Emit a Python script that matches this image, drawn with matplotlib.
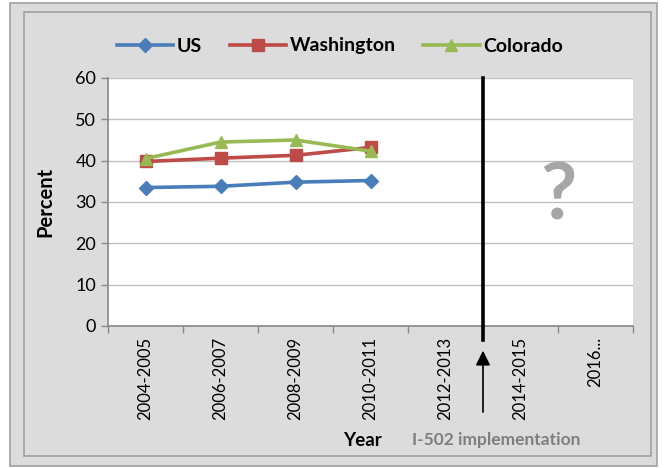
import matplotlib
matplotlib.use("Agg")
import matplotlib.pyplot as plt
from matplotlib.patches import Rectangle

plt.rcParams['font.family'] = ['Lato', 'DejaVu Sans']

years = ['2004-2005', '2006-2007', '2008-2009', '2010-2011', '2012-2013', '2014-2015', '2016...']
us = [33.5, 33.8, 34.8, 35.2]
washington = [39.8, 40.6, 41.3, 43.2]
colorado = [40.5, 44.5, 45.0, 42.3]

W, H = 664, 468
fig = plt.figure(figsize=(W / 100, H / 100), dpi=100)
fig.patch.set_facecolor('white')

# chart frame: outer and inner border on gray fill
fig.patches.append(Rectangle((10 / W, 1 - 466 / H), 647 / W, 463 / H, transform=fig.transFigure,
                             facecolor='#dcdcdc', edgecolor='#a0a0a0', lw=1.2, zorder=-10))
fig.patches.append(Rectangle((24 / W, 1 - 456 / H), 627 / W, 444 / H, transform=fig.transFigure,
                             facecolor='none', edgecolor='#a0a0a0', lw=1.2, zorder=-9))

ax = fig.add_axes([108 / W, 1 - 326 / H, 525 / W, 248 / H])
ax.set_facecolor('white')

x = list(range(len(us)))
ax.plot(x, us, color='#4a7ebb', lw=2.6, marker='D', ms=7, label='US')
ax.plot(x, washington, color='#be4b48', lw=2.6, marker='s', ms=8, label='Washington')
ax.plot(x, colorado, color='#98b954', lw=2.6, marker='^', ms=9, label='Colorado')

ax.set_xlim(-0.5, len(years) - 0.5)
ax.set_ylim(0, 60)
ax.set_yticks(range(0, 61, 10))
ax.tick_params(axis='y', labelsize=13, length=5, color='#888888', width=1)
ax.grid(axis='y', color='#bfbfbf', lw=1)
ax.set_axisbelow(True)

ax.set_xticks([i + 0.5 for i in range(-1, len(years))])
ax.set_xticklabels([])
ax.set_xticks(range(len(years)), minor=True)
ax.set_xticklabels(years, minor=True, rotation=90, fontsize=12)
ax.tick_params(axis='x', which='major', length=5, color='#888888', width=1)
ax.tick_params(axis='x', which='minor', length=0, pad=8)

for s in ['top', 'right']:
    ax.spines[s].set_visible(False)
for s in ['left', 'bottom']:
    ax.spines[s].set_color('#888888')
    ax.spines[s].set_linewidth(1.2)

fig.text(45 / W, 1 - 202 / H, 'Percent', fontsize=14.5, fontweight='bold', rotation=90,
         ha='center', va='center')

# I-502 marker line and arrow
ax.plot([4.5, 4.5], [60, -3.4], color='black', lw=2.6, clip_on=False, zorder=5)
ax.annotate('', xy=(4.5, -5.3), xytext=(4.5, -21.5), annotation_clip=False,
            arrowprops=dict(arrowstyle='-|>', color='black', lw=1.2, mutation_scale=22))

ax.text(5.5, 31.2, '?', fontsize=57, fontweight='bold', color='#a6a6a6', ha='center', va='center')

fig.text(362 / W, 1 - 440 / H, 'Year', fontsize=13.5, fontweight='bold', ha='center', va='center')
fig.text(496 / W, 1 - 440 / H, 'I-502 implementation', fontsize=12.5, fontweight='bold',
         color='#7f7f7f', ha='center', va='center')

fig.legend(loc='center', bbox_to_anchor=(340 / W, 1 - 46 / H), ncol=3, frameon=False,
           prop={'size': 14, 'weight': 'bold'}, handlelength=2.9, columnspacing=1.4,
           handletextpad=0.2)

fig.savefig('out.png', dpi=100)
